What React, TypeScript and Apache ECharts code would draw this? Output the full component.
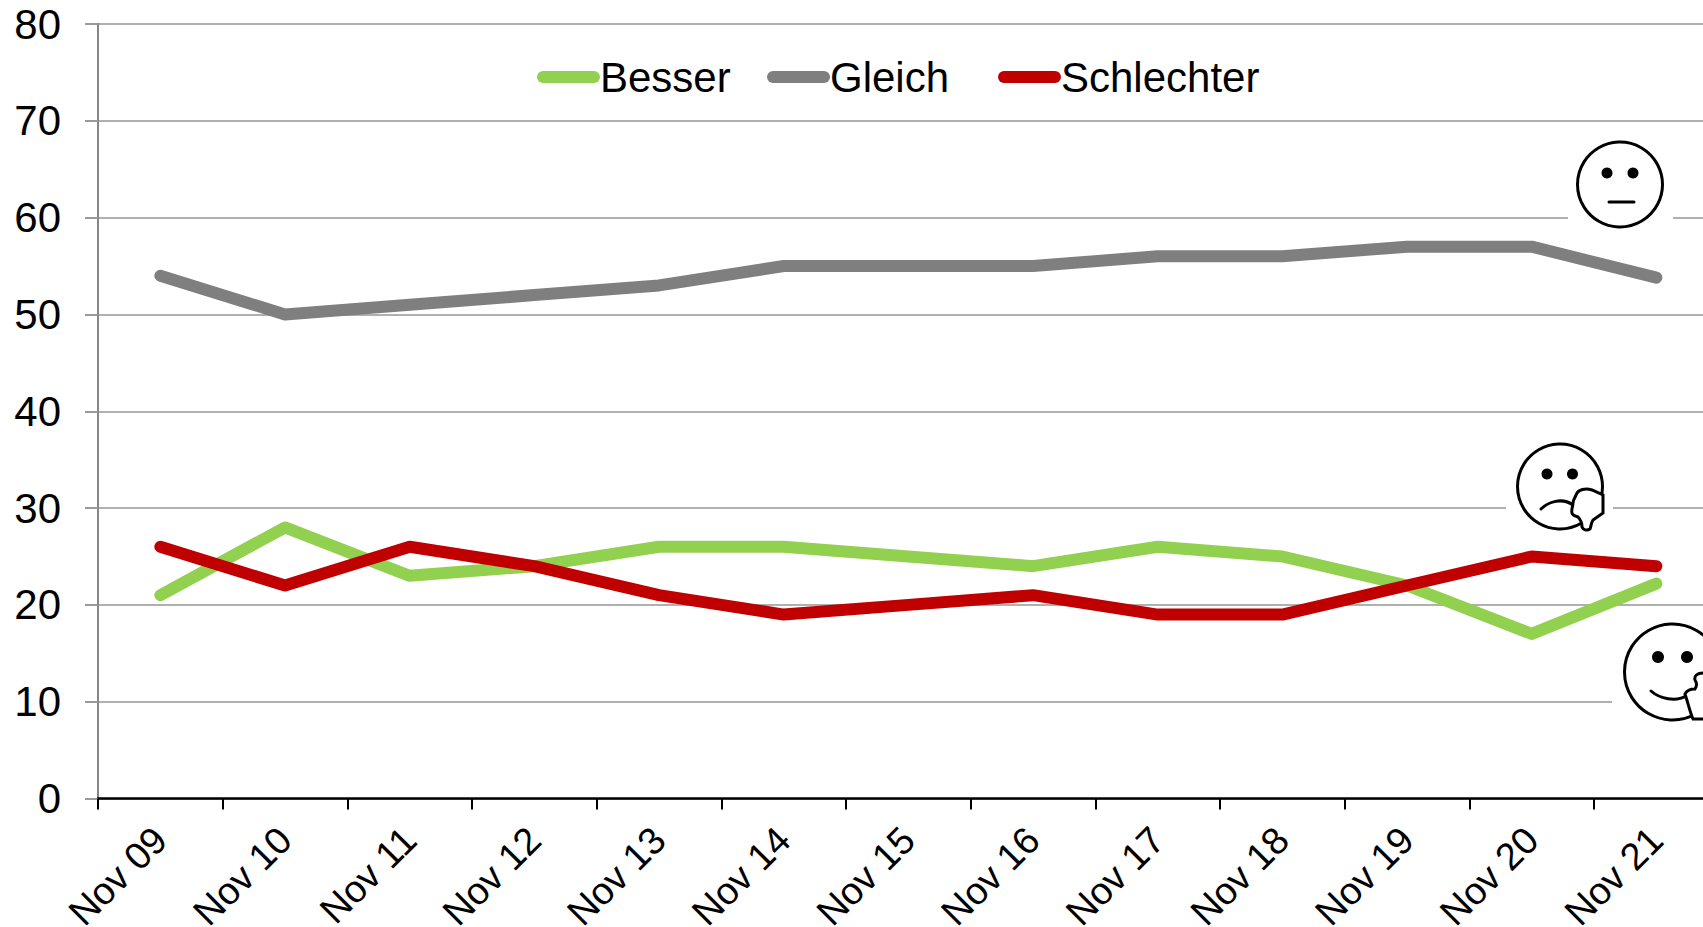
import React, { useEffect, useRef } from "react";
import * as echarts from "echarts";

const categories = ["Nov 09","Nov 10","Nov 11","Nov 12","Nov 13","Nov 14","Nov 15","Nov 16","Nov 17","Nov 18","Nov 19","Nov 20","Nov 21"];
const besser = [21,28,23,24,26,26,25,24,26,25,22,17,22.2];
const gleich = [54,50,51,52,53,55,55,55,56,56,57,57,53.8];
const schlechter = [26,22,26,24,21,19,20,21,19,19,22,25,24];

const FONT = "Liberation Sans";
const thumbDown = "M1576 495 C1578 489 1586 488 1592 490 L1603 495 L1603 513 L1593 520 C1591 523 1591 527 1590 529 C1587 531 1583 530 1582 527 C1582 523 1581 520 1578 517 C1575 516 1572 515 1572 513 C1571 510 1573 506 1573 503 C1573 500 1575 498 1576 495 Z";
const thumbUp = "M1685 694 C1687 690 1690 689 1695 689 C1697 686 1697 683 1695 680 C1694 676 1697 673 1703 673 L1712 673 L1712 719 L1693 719 C1690 712 1688 703 1685 694 Z";

const DOWN = "thumbDownShape";
const UP = "thumbUpShape";
echarts.graphic.registerShape(DOWN, echarts.graphic.extendPath(thumbDown, {}));
echarts.graphic.registerShape(UP, echarts.graphic.extendPath(thumbUp, {}));

const face = { fill: "#fff", stroke: "#000", lineWidth: 3 };
const black = { fill: "#000" };
const curve = { fill: "none", stroke: "#000", lineWidth: 3, lineCap: "round" };

const graphics: any[] = [
  { type: "rect", z: 1, shape: { x: 1568, y: 135, width: 105, height: 100 }, style: { fill: "#fff" } },
  { type: "rect", z: 1, shape: { x: 1506, y: 440, width: 107, height: 100 }, style: { fill: "#fff" } },
  { type: "rect", z: 1, shape: { x: 1612, y: 620, width: 91, height: 105 }, style: { fill: "#fff" } },
  // neutral
  { type: "circle", z: 5, shape: { cx: 1620, cy: 184.5, r: 42.5 }, style: face },
  { type: "circle", z: 5, shape: { cx: 1607, cy: 173, r: 5.5 }, style: black },
  { type: "circle", z: 5, shape: { cx: 1633, cy: 173, r: 5.5 }, style: black },
  { type: "line", z: 5, shape: { x1: 1609, y1: 202, x2: 1634, y2: 202 }, style: curve },
  // sad
  { type: "circle", z: 5, shape: { cx: 1560, cy: 486.5, r: 42.5 }, style: face },
  { type: "circle", z: 5, shape: { cx: 1547, cy: 474, r: 5.5 }, style: black },
  { type: "circle", z: 5, shape: { cx: 1572.5, cy: 474, r: 5.5 }, style: black },
  { type: "bezierCurve", z: 5, shape: { x1: 1541, y1: 509, cpx1: 1548, cpy1: 502, cpx2: 1562, cpy2: 497, x2: 1573, y2: 505 }, style: curve },
  { type: DOWN, z: 6, style: face },
  // happy
  { type: "circle", z: 5, shape: { cx: 1672.5, cy: 672, r: 48 }, style: face },
  { type: "circle", z: 5, shape: { cx: 1658, cy: 657, r: 6 }, style: black },
  { type: "circle", z: 5, shape: { cx: 1687, cy: 657, r: 6 }, style: black },
  { type: "bezierCurve", z: 5, shape: { x1: 1651, y1: 691, cpx1: 1660, cpy1: 699, cpx2: 1676, cpy2: 702, x2: 1686, y2: 696 }, style: curve },
  { type: UP, z: 6, style: face },
];

const lineSeries = (name: string, data: number[], color: string) => ({
  name,
  type: "line",
  data,
  symbol: "none",
  smooth: false,
  z: 3,
  lineStyle: { color, width: 12, cap: "round", join: "round" },
  itemStyle: { color },
});

const legendItem = (name: string, left: number) => ({
  top: 56,
  left,
  padding: 0,
  itemWidth: 63,
  itemHeight: 12,
  icon: "path://M6 0 H57 A6 6 0 0 1 57 12 H6 A6 6 0 0 1 6 0 Z",
  textStyle: { fontSize: 42, color: "#000", fontFamily: FONT, padding: [0, 0, 12, -5] },
  data: [name],
});

export default function App() {
  const ref = useRef<HTMLDivElement>(null);
  useEffect(() => {
    document.body.style.margin = "0";
    document.body.style.overflow = "hidden";
    const chart = echarts.init(ref.current!, null, { renderer: "svg" });
    chart.setOption({
      animation: false,
      backgroundColor: "#fff",
      textStyle: { fontFamily: FONT },
      grid: { left: 98, top: 24, width: 1620.7, height: 774.5, containLabel: false, outerBoundsMode: "none" },
      legend: [legendItem("Besser", 537), legendItem("Gleich", 767), legendItem("Schlechter", 998)],
      xAxis: {
        type: "category",
        data: categories,
        boundaryGap: true,
        axisLine: { lineStyle: { color: "#000", width: 2.5 } },
        axisTick: { show: true, alignWithLabel: false, interval: 0, length: 11, lineStyle: { color: "#000", width: 2 } },
        splitLine: { show: false },
        axisLabel: { rotate: 45, interval: 0, fontSize: 38, color: "#000", fontFamily: FONT, margin: 35 },
      },
      yAxis: {
        type: "value",
        min: 0,
        max: 80,
        interval: 10,
        axisLine: { show: true, lineStyle: { color: "#868686", width: 2 } },
        axisTick: { show: true, length: 13, lineStyle: { color: "#9a9a9a", width: 2 } },
        splitLine: { show: true, lineStyle: { color: "#b0b0b0", width: 2 } },
        axisLabel: { fontSize: 42, color: "#000", fontFamily: FONT, margin: 37 },
      },
      series: [
        lineSeries("Besser", besser, "#92d050"),
        lineSeries("Gleich", gleich, "#7f7f7f"),
        lineSeries("Schlechter", schlechter, "#c00000"),
      ],
      graphic: graphics,
    });
    return () => chart.dispose();
  }, []);
  return <div ref={ref} style={{ position: "fixed", left: 0, top: 0, width: 1703, height: 927 }} />;
}
